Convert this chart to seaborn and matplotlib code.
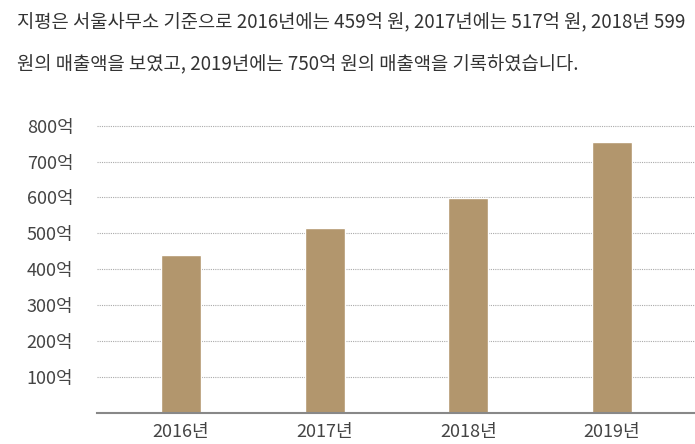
import matplotlib
matplotlib.use("Agg")
import matplotlib.pyplot as plt
import seaborn as sns
import pandas as pd

years = ["2016년", "2017년", "2018년", "2019년"]
revenue = [440, 516, 599, 755]
ytick_values = [100, 200, 300, 400, 500, 600, 700, 800]
ytick_labels = ["100억", "200억", "300억", "400억", "500억", "600억", "700억", "800억"]
caption_lines = [
    "지평은 서울사무소 기준으로 2016년에는 459억 원, 2017년에는 517억 원, 2018년 599",
    "원의 매출액을 보였고, 2019년에는 750억 원의 매출액을 기록하였습니다.",
]

sns.set_theme(style="white")
plt.rcParams['font.family'] = ['Noto Sans CJK KR', 'DejaVu Sans']

df = pd.DataFrame({"year": years, "revenue": revenue})

fig = plt.figure(figsize=(6.95, 4.44), dpi=100)
ax = fig.add_axes([97/695, 31.5/444, 1 - 97/695, (318.3 - 31.5)/444])

sns.barplot(data=df, x="year", y="revenue", color="#b2966d", saturation=1,
            width=0.278, ax=ax, zorder=3)

ax.set_xlim(-0.585, 3.577)
ax.set_ylim(0, 800)
ax.set_yticks(ytick_values)
ax.set_yticklabels(ytick_labels)
ax.set_xlabel("")
ax.set_ylabel("")

for v in ytick_values:
    ax.axhline(v, color="#aaaaaa", linestyle=(0, (1, 1)), linewidth=0.8, zorder=1, clip_on=False)

for s in ["top", "right", "left"]:
    ax.spines[s].set_visible(False)
ax.spines["bottom"].set_color("#888888")
ax.spines["bottom"].set_linewidth(1.5)
ax.spines["bottom"].set_zorder(4)

ax.tick_params(axis="y", length=0, pad=17, labelsize=13, labelcolor="#444444")
ax.tick_params(axis="x", length=0, pad=7.5, labelsize=13, labelcolor="#444444")
for lab in ax.get_yticklabels() + ax.get_xticklabels():
    lab.set_fontweight("light")

fig.text(17/695, 1 - 23/444, caption_lines[0], fontsize=13.5, color="#333333",
         va="center", ha="left", fontweight="light")
fig.text(17/695, 1 - 65/444, caption_lines[1], fontsize=13.5, color="#333333",
         va="center", ha="left", fontweight="light")

fig.savefig("out.png", dpi=100)
